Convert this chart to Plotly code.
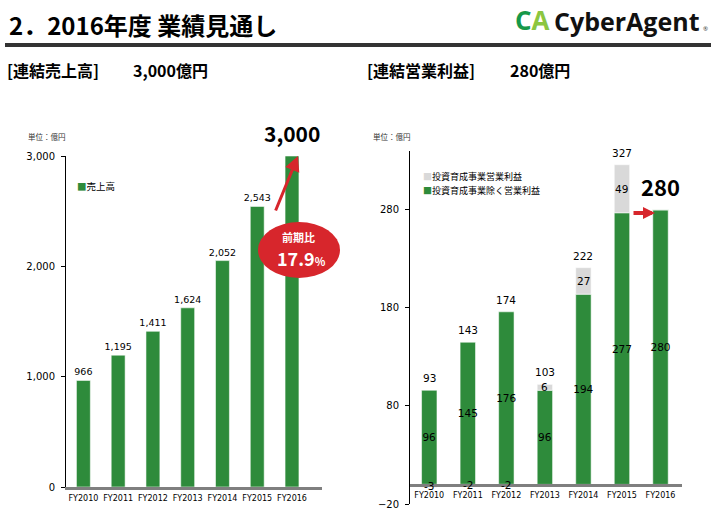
import plotly.graph_objects as go

# ---------------- data ----------------
years = ["FY2010", "FY2011", "FY2012", "FY2013", "FY2014", "FY2015", "FY2016"]
sales = [966, 1195, 1411, 1624, 2052, 2543, 3000]
op_core = [96, 145, 176, 96, 194, 277, 280]        # 投資育成事業除く営業利益
op_invest = [-3, -2, -2, 6, 27, 49, 0]             # 投資育成事業営業利益
op_total = [93, 143, 174, 103, 222, 327, 280]
sales_ticks = [0, 1000, 2000, 3000]
op_ticks = [-20, 80, 180, 280]
growth_text = "17.9"

GREEN = "#2E8B3B"
GREY = "#D9D9D9"
RED = "#D7262C"
FONT = "Noto Sans CJK JP"
NUM = "DejaVu Sans, Noto Sans CJK JP"
W, H = 716, 511


def px(x):
    return x / W


def py(y):
    return 1 - y / H


fig = go.Figure()

fig.add_trace(go.Bar(
    x=years, y=sales, xaxis="x", yaxis="y", width=0.4,
    marker=dict(color=GREEN, line=dict(color="rgba(255,255,255,0.55)", width=1)),
    text=[f"{v:,}" for v in sales[:-1]] + [""], textposition="outside", textangle=0,
    textfont=dict(size=9.5, color="black", family=NUM), cliponaxis=False,
    constraintext="none", showlegend=False))

fig.add_trace(go.Bar(
    x=years, y=op_core, xaxis="x2", yaxis="y2", width=0.4,
    marker=dict(color=GREEN, line=dict(color="rgba(255,255,255,0.55)", width=1)),
    text=[str(v) for v in op_core], textposition="inside", insidetextanchor="middle", textangle=0,
    textfont=dict(size=10.5, color="black", family=NUM), constraintext="none",
    showlegend=False))

fig.add_trace(go.Bar(
    x=years, y=op_invest, xaxis="x2", yaxis="y2", width=0.4,
    marker=dict(color=GREY, line=dict(color="rgba(255,255,255,0.55)", width=1)),
    showlegend=False))

ann = []
# grey segment labels
for i, g in enumerate(op_invest):
    if g == 0:
        continue
    ymid = op_core[i] + g / 2 if g > 0 else g / 2
    ann.append(dict(x=years[i], y=ymid, xref="x2", yref="y2", text=str(g), showarrow=False,
                    xanchor="center", yanchor="middle",
                    font=dict(size=10.5, color="black", family=NUM)))
# totals
for i, t in enumerate(op_total):
    top = op_core[i] + max(op_invest[i], 0)
    big = i == len(op_total) - 1
    ann.append(dict(x=years[i], y=top, xref="x2", yref="y2", text=str(t), showarrow=False,
                    xanchor="center", yanchor="bottom", yshift=6 if big else 4,
                    font=dict(size=22 if big else 10.5, color="black", family=FONT if big else NUM,
                              weight="bold" if big else "normal")))
# big sales label
ann.append(dict(x=years[-1], y=sales[-1], xref="x", yref="y", text=f"{sales[-1]:,}", showarrow=False,
                xanchor="center", yanchor="bottom", yshift=6,
                font=dict(size=21, color="black", family=FONT, weight="bold")))

# arrows
ann.append(dict(x=px(298), y=py(156), xref="paper", yref="paper", ax=-23, ay=56, text="",
                showarrow=True, arrowhead=2, arrowsize=1, arrowwidth=3, arrowcolor=RED))
ann.append(dict(x=px(655), y=py(213), xref="paper", yref="paper", ax=-23, ay=0, text="",
                showarrow=True, arrowhead=2, arrowsize=0.6, arrowwidth=4, arrowcolor=RED))


def label(x, y, text, size, color="black", bold=False, family=FONT, xanchor="left"):
    ann.append(dict(x=px(x), y=py(y), xref="paper", yref="paper", xanchor=xanchor, yanchor="middle",
                    text=text, showarrow=False,
                    font=dict(size=size, color=color, family=family, weight="bold" if bold else "normal")))


# ellipse texts
label(298, 237, "前期比", 11, "white", True, xanchor="center")
label(301, 258, f"{growth_text}<span style='font-size:11px'>%</span>", 18, "white", True, xanchor="center")

# titles and text
label(7, 24, "2．2016年度 業績見通し", 24, "black", True)
label(532, 20, "<span style='color:#16984A'>C</span><span style='color:#8CC63F'>A</span>", 26,
      "#16984A", True, "Open Sans", xanchor="center")
label(627, 21, "CyberAgent", 25, "#111111", True, "Open Sans", xanchor="center")
label(705, 29, "®", 6, "#333333", False, "Open Sans", xanchor="center")
label(5, 70, "[連結売上高]", 16, "black", True)
label(131, 70, "3,000億円", 16, "black", True)
label(365, 70, "[連結営業利益]", 16, "black", True)
label(508, 70, "280億円", 16, "black", True)
label(26, 136, "単位：億円", 7.5, "#333333")
label(371, 136, "単位：億円", 7.5, "#333333")
# legends
label(75, 186, f"<span style='color:{GREEN}'>■</span>売上高", 9.5)
label(421, 176, f"<span style='color:{GREY}'>■</span>投資育成事業営業利益", 9)
label(421, 190, f"<span style='color:{GREEN}'>■</span>投資育成事業除く営業利益", 9)

shapes = [
    dict(type="line", xref="paper", yref="paper", x0=px(5), x1=px(711), y0=py(45), y1=py(45),
         line=dict(color="#333333", width=4)),
    dict(type="circle", xref="paper", yref="paper", x0=px(258), x1=px(340), y0=py(278), y1=py(222),
         fillcolor=RED, line=dict(width=0), layer="above"),
]

tickfont = dict(size=10, color="black", family=NUM)
xtickfont = dict(size=8, color="black", family=NUM)

fig.update_layout(
    width=W, height=H, margin=dict(l=0, r=0, t=0, b=0, pad=0, autoexpand=False),
    paper_bgcolor="white", plot_bgcolor="white",
    barmode="relative", bargap=0.6,
    annotations=ann, shapes=shapes,
    font=dict(family=FONT, color="black"),
    xaxis=dict(domain=[px(66), px(322)], anchor="y", showline=True, linecolor="#7F7F7F", linewidth=2.5,
               ticks="", tickfont=xtickfont, showgrid=False, zeroline=False, automargin=False,
               ticklabelstandoff=2),
    yaxis=dict(domain=[py(487), py(156)], anchor="x", range=[0, 3000], tickvals=sales_ticks, tickformat=",",
               showline=True, linecolor="black", linewidth=1, ticks="outside", ticklen=4, tickcolor="black",
               tickfont=tickfont, showgrid=False, zeroline=False, ticklabelstandoff=4, automargin=False),
    xaxis2=dict(domain=[px(410), px(682)], anchor="free", position=py(485), showline=True,
                linecolor="#7F7F7F", linewidth=2.5, ticks="", tickfont=xtickfont, showgrid=False,
                zeroline=False, automargin=False, ticklabelstandoff=2),
    yaxis2=dict(domain=[py(504), py(151)], anchor="x2", range=[-20, 340], tickvals=op_ticks,
                showline=True, linecolor="black", linewidth=1, ticks="outside", ticklen=4, tickcolor="black",
                tickfont=tickfont, showgrid=False, zeroline=False, ticklabelstandoff=4, automargin=False),
)

fig.write_html("out.html")
